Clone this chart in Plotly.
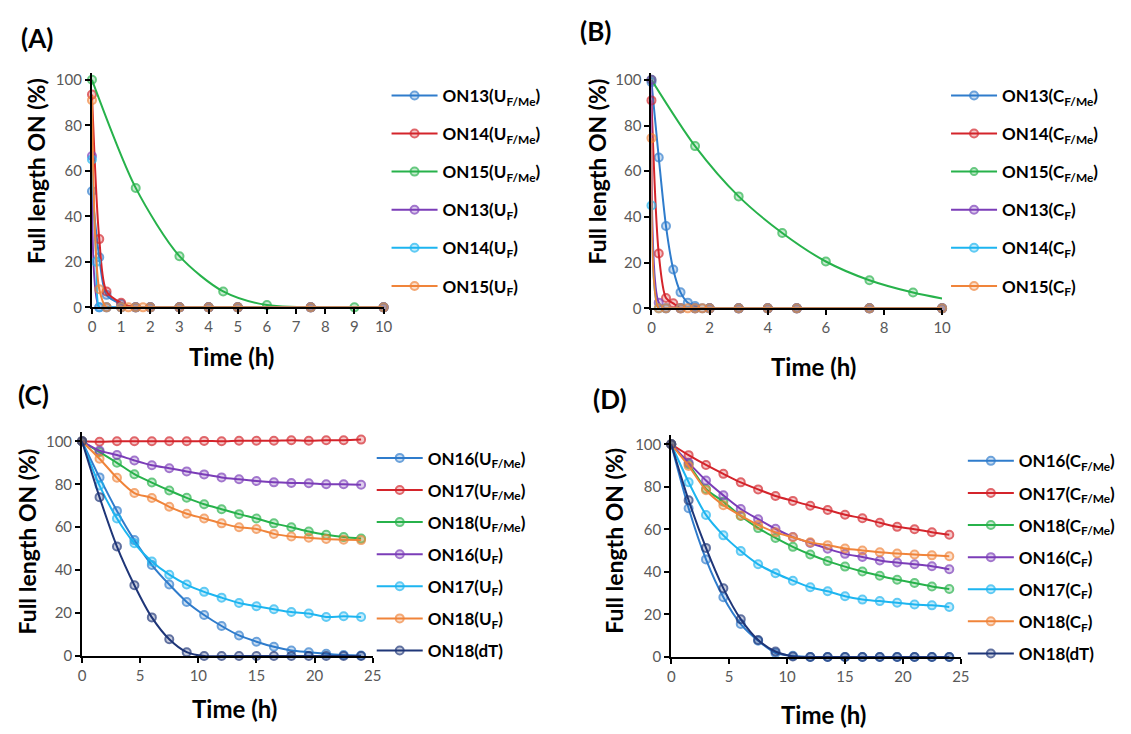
import plotly.graph_objects as go

# ---------------- colours ----------------
BLUE = "#2f7ccc"
RED = "#d4242b"
GREEN = "#27b24b"
PURPLE = "#7b3db8"
LBLUE = "#1db5f0"
ORANGE = "#f0843a"
NAVY = "#1f3678"

# ---------------- Panel A data (time h, % full length) ----------------
A_names = ["ON13(U<sub>F/Me</sub>)", "ON14(U<sub>F/Me</sub>)", "ON15(U<sub>F/Me</sub>)",
           "ON13(U<sub>F</sub>)", "ON14(U<sub>F</sub>)", "ON15(U<sub>F</sub>)"]
A_t_ON13_FMe = [0, 0.25, 0.5, 1, 1.5, 2, 3, 4, 5, 7.5, 10]
A_y_ON13_FMe = [51, 22, 5.5, 1.5, 0, 0, 0, 0, 0, 0, 0]
A_t_ON14_FMe = [0, 0.25, 0.5, 1, 1.5, 2, 3, 4, 5, 7.5, 10]
A_y_ON14_FMe = [93.5, 30, 7, 2, 0, 0, 0, 0, 0, 0, 0]
A_t_ON15_FMe = [0, 1.5, 3, 4.5, 6, 9]
A_y_ON15_FMe = [100, 52.5, 22.5, 7, 1, 0]
A_t_ON13_F = [0, 0.25, 0.5, 1, 1.5, 2, 3, 4, 5, 7.5, 10]
A_y_ON13_F = [66.5, 0, 0, 0, 0, 0, 0, 0, 0, 0, 0]
A_t_ON14_F = [0, 0.15, 0.25, 0.5, 1, 1.5, 2, 3, 4, 5, 7.5, 10]
A_y_ON14_F = [65, 20, 0, 0, 0, 0, 0, 0, 0, 0, 0, 0]
A_t_ON15_F = [0, 0.25, 0.5, 1, 1.25, 1.5, 1.75, 2, 3, 4, 5, 7.5, 10]
A_y_ON15_F = [91, 8, 0, 0, 0, 0, 0, 0, 0, 0, 0, 0, 0]

# ---------------- Panel B data ----------------
B_names = ["ON13(C<sub>F/Me</sub>)", "ON14(C<sub>F/Me</sub>)", "ON15(C<sub>F/Me</sub>)",
           "ON13(C<sub>F</sub>)", "ON14(C<sub>F</sub>)", "ON15(C<sub>F</sub>)"]
B_t_ON13_FMe = [0, 0.25, 0.5, 0.75, 1, 1.25, 1.5, 1.75, 2, 3, 4, 5, 7.5, 10]
B_y_ON13_FMe = [99, 66, 36, 17, 7, 2.5, 1, 0, 0, 0, 0, 0, 0, 0]
B_t_ON14_FMe = [0, 0.25, 0.5, 0.75, 1, 1.5, 2, 3, 4, 5, 7.5, 10]
B_y_ON14_FMe = [91, 24, 4.5, 2.2, 0, 0, 0, 0, 0, 0, 0, 0]
B_t_ON15_FMe = [0, 1.5, 3, 4.5, 6, 7.5, 9, 10]
B_y_ON15_FMe = [100, 71, 49, 33, 20.5, 12.3, 6.9, 4.3]
B_t_ON13_F = [0, 0.25, 0.5, 1, 1.5, 2, 3, 4, 5, 7.5, 10]
B_y_ON13_F = [100, 2.5, 0, 0, 0, 0, 0, 0, 0, 0, 0]
B_t_ON14_F = [0, 0.25, 0.5, 1, 1.5, 2, 3, 4, 5, 7.5, 10]
B_y_ON14_F = [45, 0, 0, 0, 0, 0, 0, 0, 0, 0, 0]
B_t_ON15_F = [0, 0.25, 0.5, 1, 1.25, 1.5, 1.75, 2, 3, 4, 5, 7.5, 10]
B_y_ON15_F = [74.5, 0, 0, 0, 0, 0, 0, 0, 0, 0, 0, 0, 0]

# ---------------- Panel C / D shared time points ----------------
t_CD = [0, 1.5, 3, 4.5, 6, 7.5, 9, 10.5, 12, 13.5, 15, 16.5, 18, 19.5, 21, 22.5, 24]

C_names = ["ON16(U<sub>F/Me</sub>)", "ON17(U<sub>F/Me</sub>)", "ON18(U<sub>F/Me</sub>)",
           "ON16(U<sub>F</sub>)", "ON17(U<sub>F</sub>)", "ON18(U<sub>F</sub>)", "ON18(dT)"]
C_ON16_FMe = [100, 83.2, 67.6, 54, 42.4, 33.3, 25.2, 19.1, 14, 9.6, 6.7, 4.3, 2.6, 1.8, 1.1, 0.5, 0.3]
C_ON17_FMe = [100, 99.8, 100, 100, 100, 100, 100, 100.2, 100, 100.3, 100.3, 100.3, 100.5, 100.3, 100.5, 100.5, 100.8]
C_ON18_FMe = [100, 95, 90, 84.7, 80.8, 77.1, 73.7, 70.7, 68.4, 66.1, 64.1, 61.8, 60, 58, 56.5, 55.4, 54.7]
C_ON16_F = [100, 95.7, 93.6, 91.1, 88.9, 87.5, 86, 84.6, 83.2, 82.3, 81.5, 80.9, 80.6, 80.5, 80, 80, 79.8]
C_ON17_F = [100, 79.4, 64.1, 52.5, 44, 37.9, 33.3, 29.9, 27.2, 24.7, 23.2, 21.8, 20.5, 19.8, 18.2, 18.5, 18.2]
C_ON18_F = [100, 91.9, 83, 75.9, 73.6, 69.5, 66.3, 64.1, 61.8, 60, 59.2, 56.9, 55.7, 55.1, 54.5, 54.2, 54]
C_ON18_dT = [100, 74, 51, 33, 18, 7.8, 1.8, 0, 0, 0, 0, 0, 0, 0, 0, 0, 0]

D_names = ["ON16(C<sub>F/Me</sub>)", "ON17(C<sub>F/Me</sub>)", "ON18(C<sub>F/Me</sub>)",
           "ON16(C<sub>F</sub>)", "ON17(C<sub>F</sub>)", "ON18(C<sub>F</sub>)", "ON18(dT)"]
D_ON16_FMe = [100, 69.9, 45.9, 28.1, 15.5, 7.7, 1.9, 0.6, 0, 0, 0, 0, 0, 0, 0, 0, 0]
D_ON17_FMe = [100, 94.9, 90.3, 86.1, 82.1, 78.8, 75.7, 73.4, 71.1, 69.1, 66.9, 65.2, 63.1, 61.2, 60.1, 58.7, 57.5]
D_ON18_FMe = [100, 90.6, 79, 73, 66.3, 60.6, 56, 51.8, 48.2, 45.1, 42.5, 40.2, 38.2, 36.3, 34.8, 33.2, 32]
D_ON16_F = [100, 91.3, 83, 76, 69.6, 64.8, 60.3, 56.4, 53.6, 50.9, 48.5, 47, 45.4, 44.4, 43.6, 42.7, 41.3]
D_ON17_F = [100, 82.2, 66.8, 57.2, 49.8, 43.6, 39.4, 35.9, 32.8, 30.9, 28.6, 27, 26.3, 25.5, 24.7, 24.3, 23.5]
D_ON18_F = [100, 89.8, 78.4, 71.4, 66.5, 62.1, 58.6, 56.3, 53.9, 52.6, 51, 50.1, 49.3, 48.7, 48.2, 47.8, 47.4]
D_ON18_dT = [100, 73.7, 51.3, 32.3, 17.8, 8, 2.6, 0.3, 0, 0, 0, 0, 0, 0, 0, 0, 0]

# ---------------- styling helpers ----------------
W, H = 1131, 734
FONT = "Lato, 'Open Sans', sans-serif"


def rgba(hexc, a):
    h = hexc.lstrip("#")
    return "rgba(%d,%d,%d,%.2f)" % (int(h[0:2], 16), int(h[2:4], 16), int(h[4:6], 16), a)


fig = go.Figure()


def add(xs, ys, name, color, ax, leg, group, last_marker=True):
    sizes = [8] * len(xs)
    if not last_marker:
        sizes[-1] = 0
    fig.add_trace(go.Scatter(
        x=xs, y=ys, name=name, mode="lines+markers",
        line=dict(color=color, width=2, shape="spline", smoothing=0.8),
        marker=dict(symbol="circle", size=sizes, color=rgba(color, 0.35),
                    line=dict(color=color, width=2)),
        xaxis="x" + ax, yaxis="y" + ax, legend=leg, legendgroup=group,
        cliponaxis=False,
    ))


colsA = [BLUE, RED, GREEN, PURPLE, LBLUE, ORANGE]
A_series = [(A_t_ON13_FMe, A_y_ON13_FMe), (A_t_ON14_FMe, A_y_ON14_FMe), (A_t_ON15_FMe, A_y_ON15_FMe),
            (A_t_ON13_F, A_y_ON13_F), (A_t_ON14_F, A_y_ON14_F), (A_t_ON15_F, A_y_ON15_F)]
for i, (xs, ys) in enumerate(A_series):
    add(xs, ys, A_names[i], colsA[i], "", "legend", "a%d" % i)

B_series = [(B_t_ON13_FMe, B_y_ON13_FMe), (B_t_ON14_FMe, B_y_ON14_FMe), (B_t_ON15_FMe, B_y_ON15_FMe),
            (B_t_ON13_F, B_y_ON13_F), (B_t_ON14_F, B_y_ON14_F), (B_t_ON15_F, B_y_ON15_F)]
for i, (xs, ys) in enumerate(B_series):
    add(xs, ys, B_names[i], colsA[i], "2", "legend2", "b%d" % i, last_marker=(i != 2))

colsC = [BLUE, RED, GREEN, PURPLE, LBLUE, ORANGE, NAVY]
C_series = [C_ON16_FMe, C_ON17_FMe, C_ON18_FMe, C_ON16_F, C_ON17_F, C_ON18_F, C_ON18_dT]
for i, ys in enumerate(C_series):
    add(t_CD, ys, C_names[i], colsC[i], "3", "legend3", "c%d" % i)

D_series = [D_ON16_FMe, D_ON17_FMe, D_ON18_FMe, D_ON16_F, D_ON17_F, D_ON18_F, D_ON18_dT]
for i, ys in enumerate(D_series):
    add(t_CD, ys, D_names[i], colsC[i], "4", "legend4", "d%d" % i)


def px_x(p):
    return p / W


def px_y(p):
    return (H - p) / H


TICKFONT = dict(family=FONT, size=15, color="#595959")


def xax(dom, rng, dtick):
    return dict(domain=[px_x(dom[0]), px_x(dom[1])], range=rng, dtick=dtick,
                showline=True, linecolor="black", linewidth=2, ticks="outside",
                ticklen=5, tickwidth=2, tickcolor="black", showgrid=False,
                zeroline=False, tickfont=TICKFONT, fixedrange=True)


def yax(y0px, y100px, top, anchor):
    ppu = (y0px - y100px) / 100.0
    toppx = y0px - top * ppu
    return dict(domain=[px_y(y0px), px_y(toppx)], range=[0, top], dtick=20,
                showline=True, linecolor="black", linewidth=2, ticks="outside",
                ticklen=5, tickwidth=2, tickcolor="black", showgrid=False,
                zeroline=False, tickfont=TICKFONT, anchor=anchor, fixedrange=True)


legfont = dict(family=FONT, size=17, color="black", weight="bold")


def leg(xpx, ypx, gap):
    return dict(x=px_x(xpx), y=px_y(ypx), xanchor="left", yanchor="top",
                font=legfont, tracegroupgap=gap, bgcolor="rgba(0,0,0,0)",
                itemwidth=46)


annots = []


def txt(x, y, s, size, angle=0):
    annots.append(dict(x=px_x(x), y=px_y(y), xref="paper", yref="paper", text=s,
                       showarrow=False, textangle=angle, xanchor="center", yanchor="middle",
                       font=dict(family=FONT, size=size, color="black", weight="bold")))


# panel labels
txt(33, 36, "(A)", 26)
txt(598, 28, "(B)", 26)
txt(30, 398, "(C)", 26)
txt(613, 402, "(D)", 26)
# y titles
txt(33, 171, "Full length ON (%)", 23, -90)
txt(600, 171, "Full length ON (%)", 23, -90)
txt(23, 547, "Full length ON (%)", 23, -90)
txt(617, 546, "Full length ON (%)", 23, -90)
# x titles
txt(230, 359, "Time (h)", 24)
txt(819, 369, "Time (h)", 24)
txt(233, 716, "Time (h)", 24)
txt(829, 722, "Time (h)", 24)

fig.update_layout(
    width=W, height=H, autosize=False,
    margin=dict(l=0, r=0, t=0, b=0),
    paper_bgcolor="white", plot_bgcolor="white",
    font=dict(family=FONT),
    xaxis=xax((89, 384), [0, 10], 1),
    yaxis=yax(309, 78, 103, "x"),
    xaxis2=xax((655, 949), [0, 10], 2),
    yaxis2=yax(310, 78, 103, "x2"),
    xaxis3=xax((79, 373), [0, 25], 5),
    yaxis3=yax(663, 445, 104.5, "x3"),
    xaxis4=xax((675, 968), [0, 25], 5),
    yaxis4=yax(664, 448, 104.5, "x4"),
    legend=leg(387, 76, 13),
    legend2=leg(953, 76, 13),
    legend3=leg(372, 444, 7),
    legend4=leg(970, 447, 7),
    annotations=annots,
    showlegend=True,
)
fig.update_layout(xaxis=dict(anchor="y"), xaxis2=dict(anchor="y2"),
                  xaxis3=dict(anchor="y3"), xaxis4=dict(anchor="y4"))

fig.write_html("out.html", config={"displayModeBar": False},
               post_script="document.body.style.margin='0';document.body.style.overflow='hidden';")
